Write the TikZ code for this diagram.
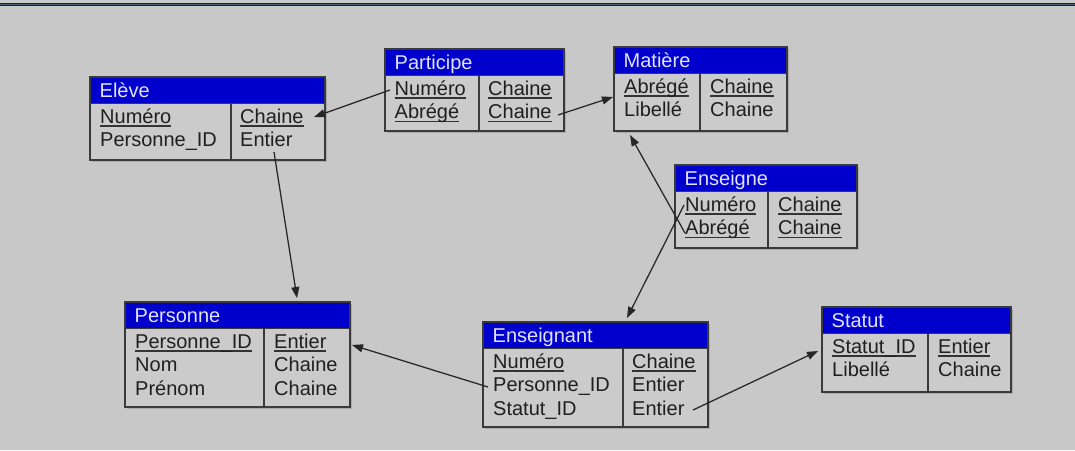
\documentclass[tikz,border=0pt]{standalone}
\usepackage{fontspec}
\setmainfont{Liberation Sans}
\usetikzlibrary{arrows.meta}
\definecolor{bgc}{HTML}{C8C8C8}
\definecolor{boxfill}{HTML}{CBCBCB}
\definecolor{shadowc}{HTML}{ABABAB}
\definecolor{hdrblue}{HTML}{0000CC}
\definecolor{hdrtext}{HTML}{E2E2FF}
\definecolor{linec}{HTML}{3A3A3A}
\definecolor{topbar}{HTML}{1B2636}
\definecolor{topbarin}{HTML}{4A5A72}
\newcommand\ulx[1]{\setbox0\hbox{#1}\rlap{\textcolor{black!80}{\rule[-3pt]{\wd0}{1.1pt}}}\box0}
\tikzset{
  boxline/.style={draw=linec, line width=1.15pt},
  title/.style={inner sep=0pt, text=hdrtext, font=\fontsize{20}{23}\selectfont},
  cell/.style={inner sep=0pt, text=black!88, font=\fontsize{20}{23}\selectfont, anchor=base west},
  conn/.style={draw=black!85, line width=1.25pt, -{Triangle[length=11pt,width=8pt]}},
}
% #1 name, #2 left, #3 top, #4 right, #5 divider, #6 bottom, #7 title
\newcommand\erbox[7]{%
  \fill[shadowc] (#2+1.8,#3+1.8) rectangle (#4+1.8,#6+1.8);
  \fill[boxfill] (#2,#3) rectangle (#4,#6);
  \fill[hdrblue] (#2,#3) rectangle (#4,#3+26.5);
  \draw[boxline] (#2,#3) rectangle (#4,#6);
  \draw[boxline] (#2,#3+26.5) -- (#4,#3+26.5);
  \draw[boxline] (#5,#3+26.5) -- (#5,#6);
  \node[title, anchor=base west] (#1) at (#2+9.5,#3+20) {#7};
}
\begin{document}
\begin{tikzpicture}[x=1pt,y=-1pt]
\fill[bgc] (0,0) rectangle (1075,450);
\useasboundingbox (0,0) rectangle (1075,450);
\fill[topbar] (0,2.8) rectangle (1075,6.2);
\draw[topbarin, line width=0.8pt] (0,4.5) -- (1075,4.5);

% Eleve
\erbox{eleve}{90}{77}{325}{231}{160}{Elève}
\node[cell] (eleve-r1a) at (100,123.5) {\ulx{Numéro}};
\node[cell] (eleve-r1b) at (240,123.5) {\ulx{Chaine}};
\node[cell] (eleve-r2a) at (100,146.8) {Personne\_ID};
\node[cell] (eleve-r2b) at (240,146.8) {Entier};

% Participe
\erbox{participe}{385}{49}{564}{479}{131}{Participe}
\node[cell] (part-r1a) at (394.5,95.5) {\ulx{Numéro}};
\node[cell] (part-r1b) at (488,95.5) {\ulx{Chaine}};
\node[cell] (part-r2a) at (394.5,118.8) {\ulx{Abrégé}};
\node[cell] (part-r2b) at (488,118.8) {\ulx{Chaine}};

% Matiere
\erbox{matiere}{614}{47}{787}{700}{131}{Matière}
\node[cell] (mat-r1a) at (624,93.5) {\ulx{Abrégé}};
\node[cell] (mat-r1b) at (710,93.5) {\ulx{Chaine}};
\node[cell] (mat-r2a) at (624,116.8) {Libellé};
\node[cell] (mat-r2b) at (710,116.8) {Chaine};

% Enseigne
\erbox{enseigne}{675}{165}{857}{768}{248}{Enseigne}
\node[cell] (ens-r1a) at (685,211.5) {\ulx{Numéro}};
\node[cell] (ens-r1b) at (778,211.5) {\ulx{Chaine}};
\node[cell] (ens-r2a) at (685,234.8) {\ulx{Abrégé}};
\node[cell] (ens-r2b) at (778,234.8) {\ulx{Chaine}};

% Personne
\erbox{personne}{125}{302}{350}{264}{407}{Personne}
\node[cell] (pers-r1a) at (135,348.5) {\ulx{Personne\_ID}};
\node[cell] (pers-r1b) at (274,348.5) {\ulx{Entier}};
\node[cell] (pers-r2a) at (135,371.8) {Nom};
\node[cell] (pers-r2b) at (274,371.8) {Chaine};
\node[cell] (pers-r3a) at (135,395.1) {Prénom};
\node[cell] (pers-r3b) at (274,395.1) {Chaine};

% Enseignant
\erbox{enseignant}{483}{322}{708}{623}{427}{Enseignant}
\node[cell] (ent-r1a) at (493,368.5) {\ulx{Numéro}};
\node[cell] (ent-r1b) at (632,368.5) {\ulx{Chaine}};
\node[cell] (ent-r2a) at (493,391.8) {Personne\_ID};
\node[cell] (ent-r2b) at (632,391.8) {Entier};
\node[cell] (ent-r3a) at (493,415.1) {Statut\_ID};
\node[cell] (ent-r3b) at (632,415.1) {Entier};

% Statut
\erbox{statut}{822}{307}{1011}{928}{392}{Statut}
\node[cell] (stat-r1a) at (832,353.5) {\ulx{Statut\_ID}};
\node[cell] (stat-r1b) at (938,353.5) {\ulx{Entier}};
\node[cell] (stat-r2a) at (832,376.8) {Libellé};
\node[cell] (stat-r2b) at (938,376.8) {Chaine};

% connector end points
\coordinate (c-part-num) at (390,90);
\coordinate (c-eleve-in) at (314,117);
\coordinate (c-part-out) at (558,115);
\coordinate (c-mat-in) at (613,97);
\coordinate (c-eleve-out) at (274,152);
\coordinate (c-pers-top) at (297,298);
\coordinate (c-ens-abr) at (685,233);
\coordinate (c-mat-bot) at (630,135);
\coordinate (c-ens-num) at (684,205);
\coordinate (c-ent-top) at (627,318);
\coordinate (c-ent-pid) at (488,387);
\coordinate (c-pers-in) at (352,345);
\coordinate (c-ent-stat) at (693,410);
\coordinate (c-stat-in) at (818,351);

\draw[conn] (c-part-num) -- (c-eleve-in);
\draw[conn] (c-part-out) -- (c-mat-in);
\draw[conn] (c-eleve-out) -- (c-pers-top);
\draw[conn] (c-ens-abr) -- (c-mat-bot);
\draw[conn] (c-ens-num) -- (c-ent-top);
\draw[conn] (c-ent-pid) -- (c-pers-in);
\draw[conn] (c-ent-stat) -- (c-stat-in);
\end{tikzpicture}
\end{document}
